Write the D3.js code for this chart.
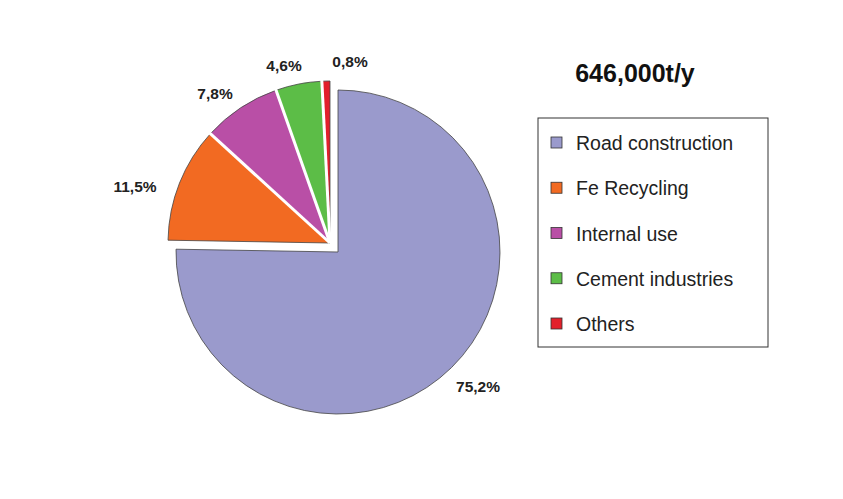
<!DOCTYPE html>
<html><head><meta charset="utf-8">
<script src="https://cdn.jsdelivr.net/npm/d3@7"></script>
<style>body{margin:0;background:#fff}</style></head>
<body><svg id="c" width="843" height="499"></svg>
<script>
const categories=["Road construction","Fe Recycling","Internal use","Cement industries","Others"];
const values=[75.2,11.5,7.8,4.6,0.8];
const labels=["75,2%","11,5%","7,8%","4,6%","0,8%"];
const colors=["#9a9acc","#f26a22","#b94fa6","#5cbd47","#e2202b"];
const title="646,000t/y";

const svg=d3.select("#c");
const cx=338,cy=252,r=162;
const pie=d3.pie().sort(null).value(d=>d)(values);
const arc=d3.arc().innerRadius(0).outerRadius(r);
const g=svg.append("g").attr("transform",`translate(${cx},${cy})`);
pie.forEach((p,i)=>{
  const off=i===0?[0,0]:[-8,-9];
  g.append("path").attr("d",arc(p)).attr("fill",colors[i])
   .attr("transform",`translate(${off[0]},${off[1]})`)
   .attr("stroke","#444").attr("stroke-width",0.8);
});
pie.slice(1,4).forEach(p=>{
  const a=p.endAngle;
  g.append("line").attr("x1",-8).attr("y1",-9)
   .attr("x2",-8+Math.sin(a)*(r+2)).attr("y2",-9-Math.cos(a)*(r+2))
   .attr("stroke","#fff").attr("stroke-width",3);
});
const lpos=[[478,392],[135,192],[215,99],[284,71],[350,67]];
labels.forEach((t,i)=>svg.append("text").attr("x",lpos[i][0]).attr("y",lpos[i][1])
  .attr("text-anchor","middle").attr("font-family","Liberation Sans, Arial")
  .attr("font-weight","bold").attr("font-size",15.5).attr("fill","#222").text(t));
svg.append("text").attr("x",635).attr("y",82).attr("text-anchor","middle")
  .attr("font-family","Liberation Sans, Arial").attr("font-weight","bold")
  .attr("font-size",25).attr("fill","#111").text(title);
svg.append("rect").attr("x",538).attr("y",118).attr("width",230).attr("height",229)
  .attr("fill","#fff").attr("stroke","#333").attr("stroke-width",1);
const ly=d3.scalePoint().domain(categories).range([143,324]);
categories.forEach((c,i)=>{
  svg.append("rect").attr("x",551).attr("y",ly(c)-6).attr("width",11).attr("height",11)
    .attr("fill",colors[i]).attr("stroke","#333").attr("stroke-width",0.8);
  svg.append("text").attr("x",576).attr("y",ly(c)+7).attr("font-family","Liberation Sans, Arial")
    .attr("font-size",19.5).attr("fill","#222").text(c);
});
</script></body></html>
